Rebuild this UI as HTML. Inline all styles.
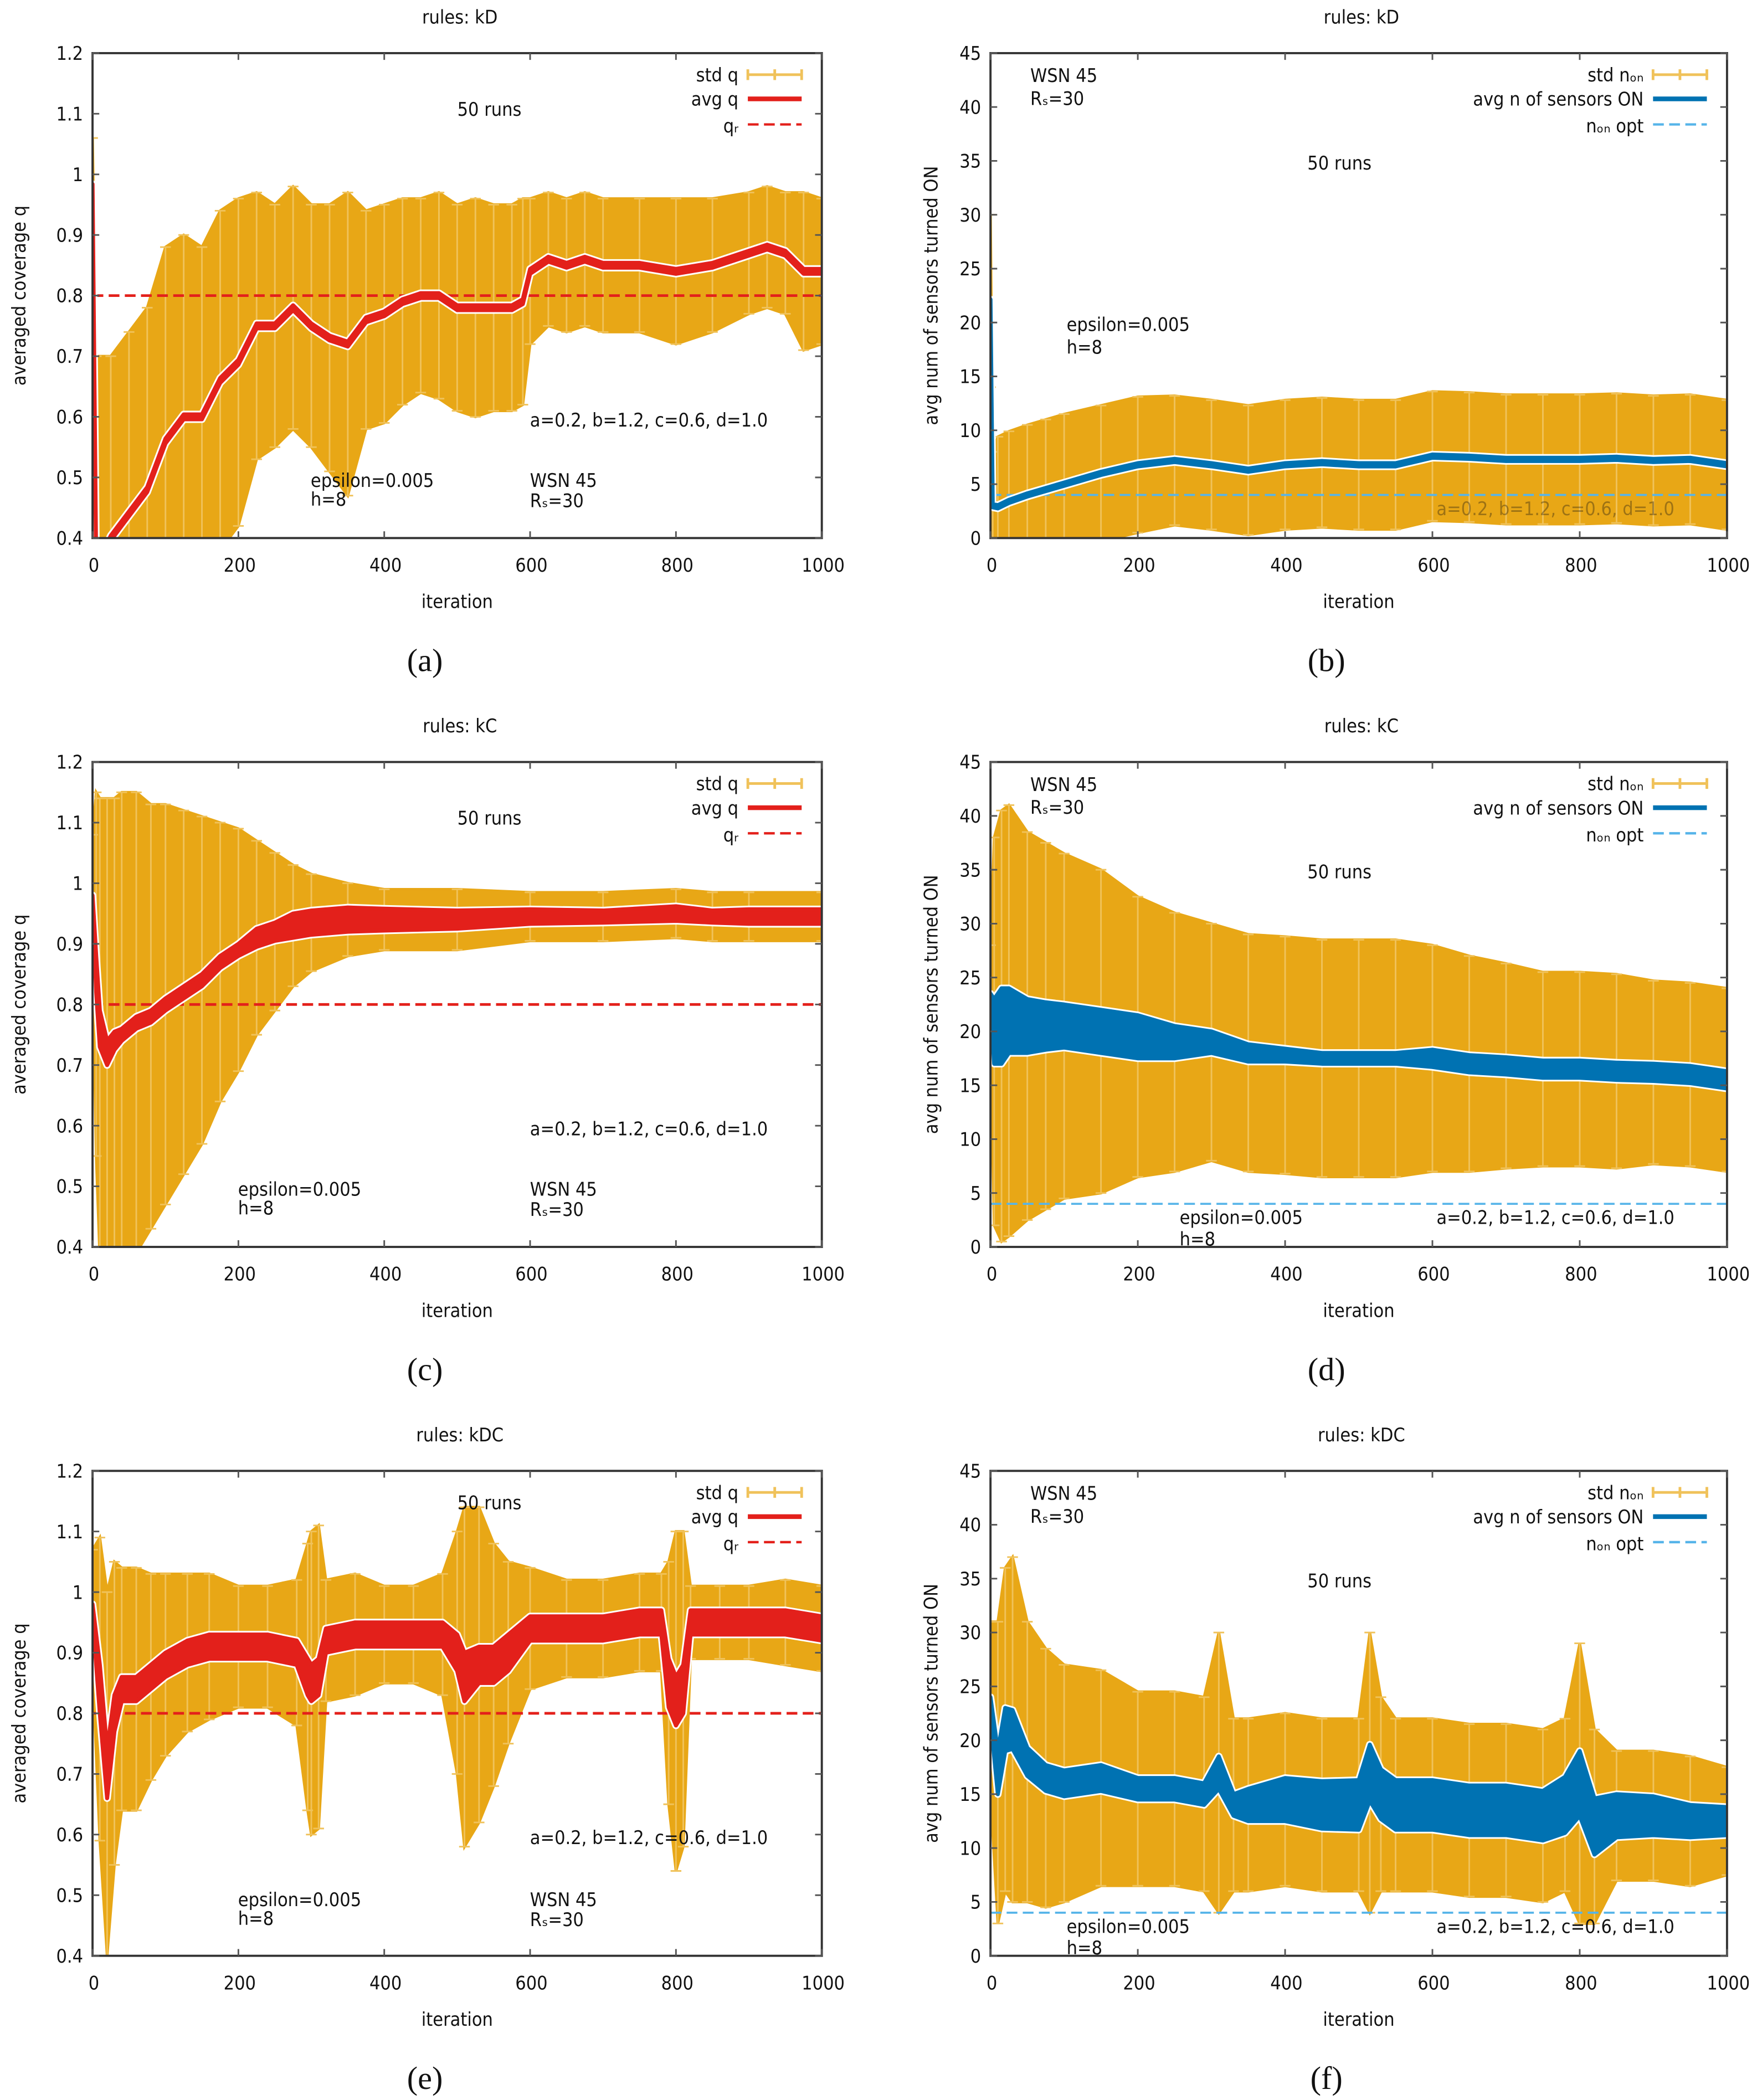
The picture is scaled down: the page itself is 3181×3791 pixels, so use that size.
<!DOCTYPE html>
<html><head><meta charset="utf-8">
<style>
html,body{margin:0;padding:0;background:#fff;}
svg{display:block;}
text{font-family:"DejaVu Sans Condensed","Liberation Sans",sans-serif;fill:#111;}
.cap{font-family:"Liberation Serif",serif;}
</style></head>
<body>
<svg id="fig" xmlns="http://www.w3.org/2000/svg" width="3181" height="3791" viewBox="0 0 1310 1561.2"></svg>
<script>
// ---------- data ----------
const aX=[0,5,25,50,75,100,125,150,175,200,225,250,275,300,325,350,375,400,425,450,475,500,525,550,575,590,600,625,650,675,700,750,800,850,900,925,950,975,1000];
const aAvg=[0.98,0.35,0.40,0.44,0.48,0.56,0.60,0.60,0.66,0.69,0.75,0.75,0.78,0.75,0.73,0.72,0.76,0.77,0.79,0.80,0.80,0.78,0.78,0.78,0.78,0.79,0.84,0.86,0.85,0.86,0.85,0.85,0.84,0.85,0.87,0.88,0.87,0.84,0.84];
const aStd=[0.08,0.35,0.30,0.30,0.30,0.32,0.30,0.28,0.28,0.27,0.22,0.2,0.2,0.2,0.22,0.25,0.18,0.18,0.17,0.16,0.17,0.17,0.18,0.17,0.17,0.17,0.12,0.11,0.11,0.11,0.11,0.11,0.12,0.11,0.1,0.1,0.1,0.13,0.12];
const aSpread=aX.map(()=>0.004);

const bX=[0,3,10,25,50,75,100,150,200,250,300,350,400,450,500,550,600,650,700,750,800,850,900,950,1000];
const bAvg=[22,3,2.9,3.4,4,4.5,5,6,6.8,7.2,6.8,6.3,6.8,7,6.8,6.8,7.6,7.5,7.3,7.3,7.3,7.4,7.2,7.3,6.8];
const bStd=[8,5,6.5,6.5,6.5,6.5,6.5,6.3,6.3,6,6,6,6,6,6,6,6,6,6,6,6,6,6,6,6];
const bSpread=bX.map(()=>0.15);

const cX=[0,5,10,20,30,40,60,80,100,125,150,175,200,225,250,275,300,350,400,500,600,700,800,850,900,1000];
const cAvg=[0.98,0.85,0.76,0.72,0.74,0.75,0.77,0.78,0.80,0.82,0.84,0.87,0.89,0.91,0.92,0.93,0.935,0.94,0.94,0.94,0.945,0.945,0.95,0.945,0.945,0.945];
const cSpread=[0,0.03,0.03,0.02,0.015,0.01,0.01,0.01,0.01,0.01,0.01,0.01,0.01,0.015,0.015,0.02,0.02,0.02,0.018,0.015,0.012,0.01,0.012,0.01,0.012,0.012];
const cStd=[0.1,0.3,0.38,0.42,0.4,0.4,0.38,0.35,0.33,0.3,0.27,0.23,0.2,0.16,0.13,0.1,0.08,0.06,0.05,0.05,0.04,0.04,0.04,0.04,0.04,0.04];

const dX=[0,5,15,25,50,75,100,150,200,250,300,350,400,450,500,550,600,650,700,750,800,850,900,950,1000];
const dAvg=[23,20,20.5,21,20.5,20.5,20.5,20,19.5,19,19,18,17.8,17.5,17.5,17.5,17.5,17,16.8,16.5,16.5,16.3,16.2,16,15.5];
const dSpread=[0.5,3,3.5,3,2.5,2.2,2,2,2,1.5,1,0.8,0.6,0.5,0.5,0.5,0.8,0.8,0.8,0.8,0.8,0.8,0.8,0.8,0.8];
const dStd=[5,18,20,20,18,17,16,15,13,12,11,11,11,11,11,11,10.5,10,9.5,9,9,9,8.5,8.5,8.5];

const eX=[0,10,20,30,40,60,80,100,130,160,200,240,280,295,300,310,320,360,400,440,480,500,510,530,550,570,600,650,700,750,780,790,800,810,820,860,900,950,1000];
const eAvg=[0.97,0.84,0.70,0.80,0.84,0.84,0.86,0.88,0.9,0.91,0.91,0.91,0.9,0.86,0.85,0.86,0.92,0.93,0.93,0.93,0.93,0.9,0.86,0.88,0.88,0.9,0.94,0.94,0.94,0.95,0.95,0.85,0.82,0.84,0.95,0.95,0.95,0.95,0.94];
const eStd=[0.1,0.25,0.3,0.25,0.2,0.2,0.17,0.15,0.13,0.12,0.1,0.1,0.12,0.22,0.25,0.25,0.1,0.1,0.08,0.08,0.1,0.2,0.28,0.26,0.2,0.15,0.1,0.08,0.08,0.08,0.08,0.2,0.28,0.26,0.06,0.06,0.06,0.07,0.07];
const eSpread=[0.01,0.04,0.04,0.03,0.02,0.02,0.02,0.02,0.02,0.02,0.02,0.02,0.02,0.03,0.03,0.03,0.02,0.02,0.02,0.02,0.02,0.03,0.04,0.03,0.03,0.03,0.02,0.02,0.02,0.02,0.02,0.04,0.04,0.04,0.02,0.02,0.02,0.02,0.02];

const fX=[0,10,20,30,50,75,100,150,200,250,290,310,330,350,400,450,500,515,530,550,600,650,700,750,780,800,820,850,900,950,1000];
const fAvg=[23,17,21,21,18,16.5,16,16.5,15.5,15.5,15,17,14,14,14.5,14,14,17,15,14,14,13.5,13.5,13,14,16,12,13,13,12.5,12.5];
const fSpread=[1,2,2,1.8,1.3,1.2,1.2,1.2,1,1,1,1.5,1,1.5,2,2.2,2.3,2.6,2.3,2.3,2.3,2.3,2.3,2.3,2.6,3,2.6,2,1.8,1.5,1.3];
const fStd=[8,14,15,16,13,12,11,10,9,9,9,13,8,8,8,8,8,13,9,8,8,8,8,8,8,13,9,6,6,6,5];

const qTicks=["0.4","0.5","0.6","0.7","0.8","0.9","1","1.1","1.2"];
const nTicks=["0","5","10","15","20","25","30","35","40","45"];
const xTicks=["0","200","400","600","800","1000"];

// ---------- drawing ----------
const NS="http://www.w3.org/2000/svg";
const svg=document.getElementById('fig');
function el(tag,attrs,parent){const e=document.createElementNS(NS,tag);for(const k in attrs)e.setAttribute(k,attrs[k]);(parent||svg).appendChild(e);return e;}
function txt(str,x,y,attrs,parent){const t=el('text',Object.assign({x:x,y:y,'font-size':14},attrs||{}),parent);t.textContent=str;return t;}

const GOLD="#E8A716", GOLDL="#F0C25A", RED="#E3201B", BLUE="#0072B2", LBLUE="#56B4E9";

function panel(cfg){
  const g=el('g',{});
  
  
  const L=cfg.L,R=cfg.R,T=cfg.T,B=cfg.B;
  const sx=v=>L+(v/1000)*(R-L);
  const sy=v=>B-(v-cfg.ymin)/(cfg.ymax-cfg.ymin)*(B-T);
  const cid='clip-'+cfg.name;
  const cp=el('clipPath',{id:cid},g); el('rect',{x:L,y:T,width:R-L,height:B-T},cp);
  const plot=el('g',{'clip-path':'url(#'+cid+')'},g);
  const up=cfg.x.map((x,i)=>sx(x)+','+sy(cfg.avg[i]+cfg.std[i]));
  const lo=cfg.x.map((x,i)=>sx(x)+','+sy(cfg.avg[i]-cfg.std[i])).reverse();
  const band=el('polygon',{points:up.concat(lo).join(' '),fill:GOLD,stroke:GOLD,'stroke-width':2},plot);
  
  
  cfg.x.forEach((x,i)=>{
    const y1=sy(cfg.avg[i]+cfg.std[i]), y2=sy(cfg.avg[i]-cfg.std[i]);
    const eb=el('path',{d:`M${sx(x)},${y1}V${y2}M${sx(x)-4},${y1}h8M${sx(x)-4},${y2}h8`,stroke:GOLDL,'stroke-width':1.2,fill:'none'},plot);
    
    
  });
  const ry=sy(cfg.ref);
  const rl=el('line',{x1:L,x2:R,y1:ry,y2:ry,stroke:cfg.refColor,'stroke-width':cfg.isQ?2:1.5,'stroke-dasharray':'8,4'},plot);
  
  
  const au=cfg.x.map((x,i)=>sx(x)+','+sy(cfg.avg[i]+cfg.spread[i]));
  const al=cfg.x.map((x,i)=>sx(x)+','+sy(cfg.avg[i]-cfg.spread[i])).reverse();
  const pts=au.concat(al).join(' ');
  el('polygon',{points:pts,fill:'#fff',stroke:'#fff','stroke-width':5.5,'stroke-linejoin':'round'},plot);
  const ab=el('polygon',{points:pts,fill:cfg.avgColor,stroke:cfg.avgColor,'stroke-width':3,'stroke-linejoin':'round'},plot);
  
  
  el('rect',{x:L,y:T,width:R-L,height:B-T,fill:'none',stroke:'#333','stroke-width':1.6},g);
  cfg.yTicks.forEach((lab,i)=>{
    const v=cfg.ymin+i*cfg.ystep, y=sy(v);
    el('path',{d:`M${L},${y}h5M${R},${y}h-5`,stroke:'#555','stroke-width':1.2},g);
    const t=txt(lab,L-7,y+5,{'text-anchor':'end'},g);
    
    
  });
  xTicks.forEach((lab,i)=>{
    const x=sx(i*200);
    el('path',{d:`M${x},${B}v-5M${x},${T}v5`,stroke:'#555','stroke-width':1.2},g);
    const t=txt(lab,x+1,B+25,{'text-anchor':'middle'},g);
    
    
  });
  const title=txt(cfg.title,(L+R)/2+2,T-22,{'text-anchor':'middle'},g);
  
  
  const xl=txt('iteration',(L+R)/2,B+52,{'text-anchor':'middle'},g);
  
  
  const yl=txt(cfg.ylab,0,0,{'text-anchor':'middle',transform:`translate(${cfg.ylx},${(T+B)/2}) rotate(-90)`},g);
  
  
  const cap=txt(cfg.cap,(L+R)/2-24,B+99,{'text-anchor':'middle','font-size':24,class:'cap'},g);
  
  
  const lx=R-55, lt=T+16;
  const l1=txt(cfg.leg[0],lx-7,lt+5,{'text-anchor':'end'},g);
  
  
  el('path',{d:`M${lx},${lt}h40M${lx},${lt-4}v8M${lx+20},${lt-4}v8M${lx+40},${lt-4}v8`,stroke:GOLDL,'stroke-width':2},g);
  const l2=txt(cfg.leg[1],lx-7,lt+23,{'text-anchor':'end'},g);
  
  
  el('line',{x1:lx,x2:lx+40,y1:lt+18,y2:lt+18,stroke:cfg.avgColor,'stroke-width':3.5},g);
  const l3=txt(cfg.leg[2],lx-7,lt+43,{'text-anchor':'end'},g);
  
  
  el('line',{x1:lx,x2:lx+40,y1:lt+37,y2:lt+37,stroke:cfg.refColor,'stroke-width':1.8,'stroke-dasharray':'8,4'},g);
  cfg.notes.forEach(n=>{
    const t=txt(n[0],n[1],n[2],{},g);
    if(n[3])t.setAttribute('fill-opacity',n[3]);
    
    
  });
}
const LL=68.8,LR=611,RL=736.4,RR=1284,T0=39.5,B0=400,DY=527;
const qLeg=['std q','avg q','q\u1D63'], nLeg=['std n\u2092\u2099','avg n of sensors ON','n\u2092\u2099 opt'];
function qNotes(dy,epsX,ay){return [['50 runs',340,86+dy],['a=0.2, b=1.2, c=0.6, d=1.0',394,ay+dy],['epsilon=0.005',epsX,362+dy],['h=8',epsX,376+dy],['WSN 45',394,362+dy],['R\u209B=30',394,377+dy]];}
panel({name:'panel-a',L:LL,R:LR,T:T0,B:B0,ymin:0.4,ymax:1.2,ystep:0.1,yTicks:qTicks,x:aX,avg:aAvg,std:aStd,spread:aSpread,ref:0.8,refColor:RED,avgColor:RED,isQ:true,title:'rules: kD',ylab:'averaged coverage q',ylx:19,cap:'(a)',leg:qLeg,notes:qNotes(0,231,317)});
panel({name:'panel-b',L:RL,R:RR,T:T0,B:B0,ymin:0,ymax:45,ystep:5,yTicks:nTicks,x:bX,avg:bAvg,std:bStd,spread:bSpread,ref:4,refColor:LBLUE,avgColor:BLUE,title:'rules: kD',ylab:'avg num of sensors turned ON',ylx:697,cap:'(b)',leg:nLeg,notes:[['WSN 45',766,61],['R\u209B=30',766,78],['50 runs',972,126],['epsilon=0.005',793,246],['h=8',793,263],['a=0.2, b=1.2, c=0.6, d=1.0',1068,383,0.35]]});
panel({name:'panel-c',L:LL,R:LR,T:T0+DY,B:B0+DY,ymin:0.4,ymax:1.2,ystep:0.1,yTicks:qTicks,x:cX,avg:cAvg,std:cStd,spread:cSpread,ref:0.8,refColor:RED,avgColor:RED,isQ:true,title:'rules: kC',ylab:'averaged coverage q',ylx:19,cap:'(c)',leg:qLeg,notes:qNotes(DY,177,317)});
panel({name:'panel-d',L:RL,R:RR,T:T0+DY,B:B0+DY,ymin:0,ymax:45,ystep:5,yTicks:nTicks,x:dX,avg:dAvg,std:dStd,spread:dSpread,ref:4,refColor:LBLUE,avgColor:BLUE,title:'rules: kC',ylab:'avg num of sensors turned ON',ylx:697,cap:'(d)',leg:nLeg,notes:[['WSN 45',766,61+DY],['R\u209B=30',766,78+DY],['50 runs',972,126+DY],['epsilon=0.005',877,383+DY],['h=8',877,399+DY],['a=0.2, b=1.2, c=0.6, d=1.0',1068,383+DY]]});
panel({name:'panel-e',L:LL,R:LR,T:T0+2*DY,B:B0+2*DY,ymin:0.4,ymax:1.2,ystep:0.1,yTicks:qTicks,x:eX,avg:eAvg,std:eStd,spread:eSpread,ref:0.8,refColor:RED,avgColor:RED,isQ:true,title:'rules: kDC',ylab:'averaged coverage q',ylx:19,cap:'(e)',leg:qLeg,notes:[['50 runs',340,1122],['a=0.2, b=1.2, c=0.6, d=1.0',394,1371],['epsilon=0.005',177,1417],['h=8',177,1431],['WSN 45',394,1417],['R\u209B=30',394,1432]]});
panel({name:'panel-f',L:RL,R:RR,T:T0+2*DY,B:B0+2*DY,ymin:0,ymax:45,ystep:5,yTicks:nTicks,x:fX,avg:fAvg,std:fStd,spread:fSpread,ref:4,refColor:LBLUE,avgColor:BLUE,title:'rules: kDC',ylab:'avg num of sensors turned ON',ylx:697,cap:'(f)',leg:nLeg,notes:[['WSN 45',766,61+2*DY],['R\u209B=30',766,78+2*DY],['50 runs',972,126+2*DY],['epsilon=0.005',793,383+2*DY],['h=8',793,399+2*DY],['a=0.2, b=1.2, c=0.6, d=1.0',1068,383+2*DY]]});
</script>
</body></html>
